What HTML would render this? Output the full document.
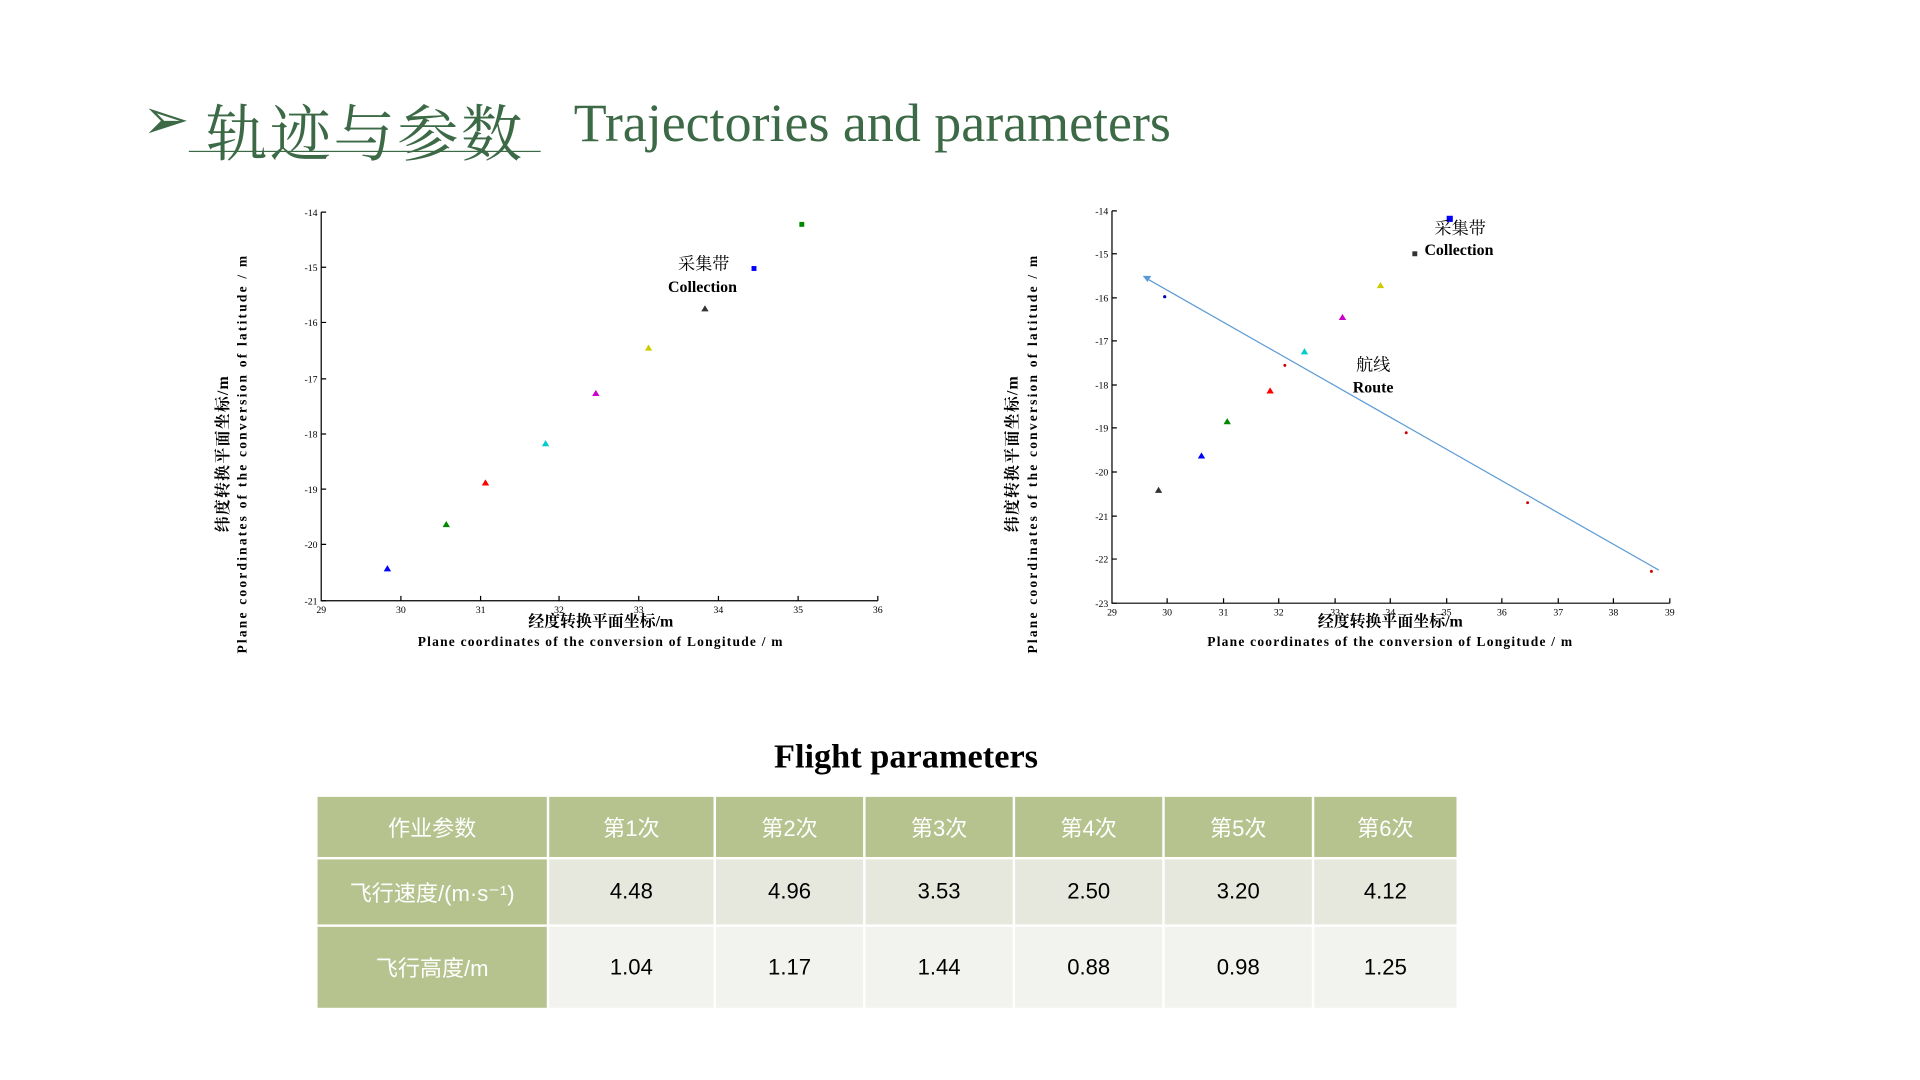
<!DOCTYPE html>
<html><head><meta charset="utf-8"><style>
html,body{margin:0;padding:0;background:#fff;overflow:hidden}
#wrap{position:absolute;left:0;top:0;width:1566px;height:881px;transform:scale(1.226);transform-origin:0 0}
.t{position:absolute;white-space:nowrap}
table{position:absolute;left:257px;top:648px;border-collapse:collapse;font-family:"Liberation Sans","Noto Sans CJK SC",sans-serif;font-size:18px}
td{border:2px solid #fff;text-align:center;padding:0}
</style></head><body><div id="wrap">
<div class="t" style="left:116px;top:70px;font-size:46px;color:#3d6a46;font-family:'DejaVu Sans',sans-serif">➢</div>
<div class="t" style="left:168px;top:70px;font-size:50px;color:#3d6a46;font-family:'Noto Serif CJK SC',serif;letter-spacing:2px">轨迹与参数</div>
<div style="position:absolute;left:154px;top:123px;width:287px;height:1px;background:#3d6a46"></div>
<div class="t" style="left:468px;top:75px;font-size:44px;color:#3d6a46;font-family:'Liberation Serif',serif">Trajectories and parameters</div>

<svg style="position:absolute;left:0;top:0" width="1566" height="600" font-family="Liberation Serif,Noto Serif CJK SC,serif">
<g stroke="#000" stroke-width="1" fill="none">
<path d="M262 173V490H716"/>
<path d="M262 173h4M262 218h4M262 263h4M262 309h4M262 354h4M262 399h4M262 444h4M262 490h4"/>
<path d="M327 490v-4M392 490v-4M456 490v-4M521 490v-4M586 490v-4M651 490v-4M716 490v-4"/>
<path d="M907 172V492H1362"/>
<path d="M907 172h4M907 207h4M907 243h4M907 278h4M907 314h4M907 349h4M907 385h4M907 421h4M907 456h4M907 492h4"/>
<path d="M952 492v-4M998 492v-4M1043 492v-4M1089 492v-4M1134 492v-4M1180 492v-4M1225 492v-4M1271 492v-4M1316 492v-4M1362 492v-4"/>
</g>
<g font-size="8" fill="#000" text-anchor="end">
<text x="259" y="176">-14</text><text x="259" y="221">-15</text><text x="259" y="266">-16</text><text x="259" y="312">-17</text><text x="259" y="357">-18</text><text x="259" y="402">-19</text><text x="259" y="447">-20</text><text x="259" y="493">-21</text>
<text x="904" y="175">-14</text><text x="904" y="210">-15</text><text x="904" y="246">-16</text><text x="904" y="281">-17</text><text x="904" y="317">-18</text><text x="904" y="352">-19</text><text x="904" y="388">-20</text><text x="904" y="424">-21</text><text x="904" y="459">-22</text><text x="904" y="495">-23</text>
</g>
<g font-size="8" fill="#000" text-anchor="middle">
<text x="262" y="500">29</text><text x="327" y="500">30</text><text x="392" y="500">31</text><text x="456" y="500">32</text><text x="521" y="500">33</text><text x="586" y="500">34</text><text x="651" y="500">35</text><text x="716" y="500">36</text>
<text x="907" y="502">29</text><text x="952" y="502">30</text><text x="998" y="502">31</text><text x="1043" y="502">32</text><text x="1089" y="502">33</text><text x="1134" y="502">34</text><text x="1180" y="502">35</text><text x="1225" y="502">36</text><text x="1271" y="502">37</text><text x="1316" y="502">38</text><text x="1362" y="502">39</text>
</g>
<g>
<path d="M316 461l3 5h-6z" fill="#00f"/><path d="M364 425l3 5h-6z" fill="#080"/><path d="M396 391l3 5h-6z" fill="#f00"/><path d="M445 359l3 5h-6z" fill="#0cc"/><path d="M486 318l3 5h-6z" fill="#c0c"/><path d="M529 281l3 5h-6z" fill="#cc0"/><path d="M575 249l3 5h-6z" fill="#333"/>
<rect x="613" y="217" width="4" height="4" fill="#00f"/><rect x="652" y="181" width="4" height="4" fill="#080"/>
</g>
<g font-size="13" font-weight="bold" text-anchor="middle" fill="#000">
<text x="574" y="220" font-weight="normal" font-size="14">采集带</text><text x="573" y="238">Collection</text>
<text x="490" y="511">经度转换平面坐标/m</text>
<text x="490" y="527" font-size="11" letter-spacing="1">Plane coordinates of the conversion of Longitude / m</text>
<text transform="translate(186,370) rotate(-90)" letter-spacing="1">纬度转换平面坐标/m</text>
<text transform="translate(201,370) rotate(-90)" font-size="11" letter-spacing="1.8">Plane coordinates of the conversion of latitude / m</text>
</g>
<line x1="935" y1="227" x2="1353" y2="465" stroke="#5b9bd5" stroke-width="1"/>
<path d="M932 225h7l-3 5z" fill="#5b9bd5"/>
<g>
<circle cx="950" cy="242" r="1.3" fill="#00a"/>
<path d="M945 397l3 5h-6z" fill="#333"/><path d="M980 369l3 5h-6z" fill="#00f"/><path d="M1001 341l3 5h-6z" fill="#080"/><path d="M1036 316l3 5h-6z" fill="#f00"/><path d="M1064 284l3 5h-6z" fill="#0cc"/><path d="M1095 256l3 5h-6z" fill="#c0c"/><path d="M1126 230l3 5h-6z" fill="#cc0"/>
<rect x="1152" y="205" width="4" height="4" fill="#333"/><rect x="1180" y="176" width="5" height="5" fill="#00f"/>
<circle cx="1048" cy="298" r="1.2" fill="#c00"/><circle cx="1147" cy="353" r="1.2" fill="#c00"/><circle cx="1246" cy="410" r="1.2" fill="#c00"/><circle cx="1347" cy="466" r="1.2" fill="#c00"/>
</g>
<g font-size="13" font-weight="bold" text-anchor="middle" fill="#000">
<text x="1191" y="191" font-weight="normal" font-size="14">采集带</text><text x="1190" y="208">Collection</text>
<text x="1120" y="302" font-weight="normal" font-size="14">航线</text><text x="1120" y="320">Route</text>
<text x="1134" y="511">经度转换平面坐标/m</text>
<text x="1134" y="527" font-size="11" letter-spacing="1">Plane coordinates of the conversion of Longitude / m</text>
<text transform="translate(830,370) rotate(-90)" letter-spacing="1">纬度转换平面坐标/m</text>
<text transform="translate(846,370) rotate(-90)" font-size="11" letter-spacing="1.8">Plane coordinates of the conversion of latitude / m</text>
</g>
</svg>

<div class="t" style="left:0;width:1478px;text-align:center;top:602px;font-size:28px;font-weight:bold;font-family:'Liberation Serif',serif">Flight parameters</div>
<table>
<tr style="height:51px;background:#b6c38e;color:#fff"><td style="width:187px">作业参数</td><td style="width:134px">第1次</td><td style="width:120px">第2次</td><td style="width:120px">第3次</td><td style="width:120px">第4次</td><td style="width:120px">第5次</td><td style="width:116px">第6次</td></tr>
<tr style="height:55px;background:#e6e7dd"><td style="background:#b6c38e;color:#fff">飞行速度/(m·s⁻¹)</td><td>4.48</td><td>4.96</td><td>3.53</td><td>2.50</td><td>3.20</td><td>4.12</td></tr>
<tr style="height:68px;background:#f2f3ee"><td style="background:#b6c38e;color:#fff">飞行高度/m</td><td>1.04</td><td>1.17</td><td>1.44</td><td>0.88</td><td>0.98</td><td>1.25</td></tr>
</table>
</div></body></html>
